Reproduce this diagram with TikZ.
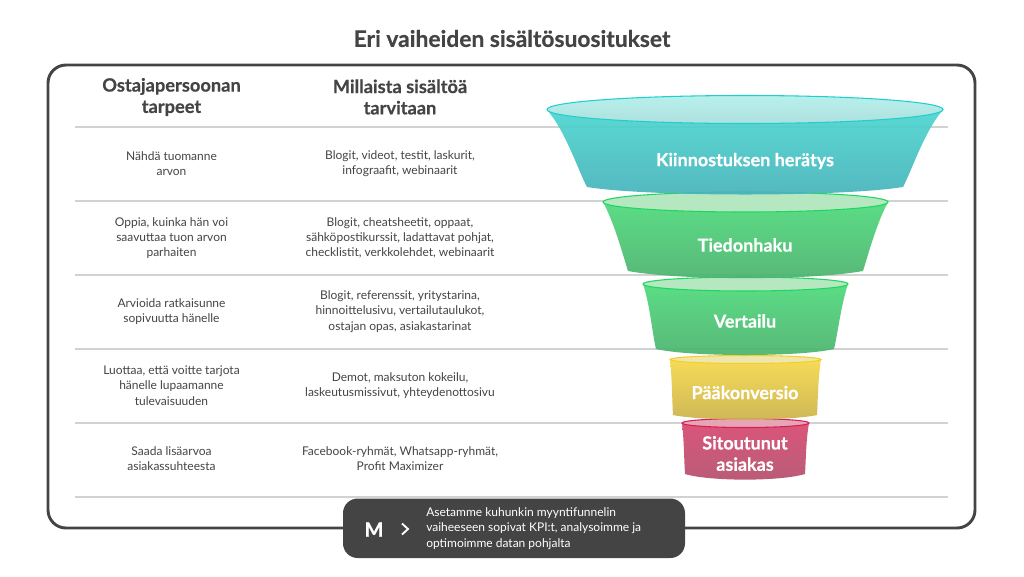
\documentclass[tikz,border=0pt]{standalone}
\usepackage{fontspec}
\setmainfont{Lato}[BoldFeatures={FakeBold=0.5}]
\definecolor{darkgrey}{HTML}{444444}
\definecolor{rulegrey}{HTML}{D2D2D2}
\tikzset{
  rulerow/.style={draw=rulegrey,line width=0.8pt},
  bodytext/.style={anchor=center,inner sep=0pt,align=center,text=darkgrey,font=\fontsize{9}{11.4}\selectfont},
  headtext/.style={anchor=center,inner sep=0pt,align=center,text=darkgrey,font=\fontsize{13.7}{16}\selectfont\bfseries},
  stagetext/.style={anchor=center,inner sep=0pt,align=center,text=white,font=\fontsize{13.5}{16}\selectfont\bfseries},
  tealbody/.style={draw=none,top color={rgb,255:red,77;green,214;blue,208},bottom color={rgb,255:red,71;green,178;blue,186},opacity=0.93},
  tealtop/.style={draw={rgb,255:red,31;green,207;blue,207},line width=0.8pt,top color={rgb,255:red,184;green,240;blue,236},bottom color={rgb,255:red,174;green,224;blue,222}},
  greenbody/.style={draw=none,top color={rgb,255:red,79;green,218;blue,124},bottom color={rgb,255:red,75;green,178;blue,110},opacity=0.93},
  greentop/.style={draw={rgb,255:red,30;green,215;blue,96},line width=0.8pt,fill={rgb,255:red,181;green,231;blue,193}},
  yellowbody/.style={draw=none,top color={rgb,255:red,245;green,216;blue,74},bottom color={rgb,255:red,203;green,178;blue,74},opacity=0.93},
  yellowtop/.style={draw={rgb,255:red,245;green,208;blue,32},line width=0.8pt,fill={rgb,255:red,239;green,229;blue,174}},
  redbody/.style={draw=none,top color={rgb,255:red,216;green,72;blue,112},bottom color={rgb,255:red,179;green,80;blue,110},opacity=0.93},
  redtop/.style={draw={rgb,255:red,216;green,30;blue,85},line width=0.8pt,fill={rgb,255:red,229;green,165;blue,181}},
}
\begin{document}
\begin{tikzpicture}[x=0.75pt,y=0.75pt,yscale=-1,xscale=1]
\useasboundingbox (0,0) rectangle (1024,576);

%Title
\node (title) [anchor=center,inner sep=0pt,text=darkgrey,font=\fontsize{17.1}{20}\selectfont\bfseries] at (512,38.5) {Eri vaiheiden sisältösuositukset};

%Frame
\draw [draw=darkgrey,line width=2.2pt,rounded corners=13.5pt] (48,65) rectangle (975,528);

%Rows
\draw [rulerow] (75,127) -- (948,127);
\draw [rulerow] (75,201) -- (948,201);
\draw [rulerow] (75,275) -- (948,275);
\draw [rulerow] (75,349) -- (948,349);
\draw [rulerow] (75,423) -- (948,423);
\draw [rulerow] (75,497) -- (948,497);

%Funnel bottom to top, each body then its rim
\draw [redbody] (682,423) .. controls (684,440) and (684,458) .. (685,474) .. controls (710,481.5) and (780,481.5) .. (805,474) .. controls (806,458) and (806,440) .. (809,423) -- cycle;
\draw [redtop] (745.5,423) ellipse [x radius=63.5,y radius=4.5];
\draw [yellowbody] (670,359) .. controls (672,378) and (672,398) .. (673,415) .. controls (700,421) and (790,421) .. (817,415) .. controls (818,398) and (818,378) .. (821,359) -- cycle;
\draw [yellowtop] (745.5,359.5) ellipse [x radius=75.5,y radius=4];
\draw [greenbody] (643,284) .. controls (650,305) and (652,332) .. (656,349) .. controls (690,357) and (800,357) .. (834,349) .. controls (838,332) and (841,305) .. (848,284) -- cycle;
\draw [greentop] (745.5,284) ellipse [x radius=102.5,y radius=7];
\draw [greenbody] (603,202) .. controls (615,225) and (622,252) .. (628,271) .. controls (680,280.5) and (811,280.5) .. (863,271) .. controls (869,252) and (876,225) .. (888,202) -- cycle;
\draw [greentop] (745.5,202) ellipse [x radius=142.5,y radius=10];
\draw [tealbody] (547,110) .. controls (565,130) and (578,170) .. (587,187) .. controls (650,197) and (840,197) .. (903,187) .. controls (912,170) and (925,130) .. (943,110) -- cycle;
\draw [tealtop] (745,109.5) ellipse [x radius=198,y radius=14];

%Stage labels
\node (interest) [stagetext] at (745,161) {Kiinnostuksen herätys};
\node (search) [stagetext] at (745,245) {Tiedonhaku};
\node (compare) [stagetext] at (745,321) {Vertailu};
\node (conversion) [stagetext] at (745,392.5) {Pääkonversio};
\node (customer) [stagetext] at (745,453.5) {Sitoutunut\\asiakas};

%Column headings
\node (needshead) [headtext] at (171.5,97) {Ostajapersoonan\\tarpeet};
\node (contenthead) [headtext] at (400,97) {Millaista sisältöä\\tarvitaan};

%Needs column
\node (needone) [bodytext] at (171.5,163.5) {Nähdä tuomanne\\arvon};
\node (needtwo) [bodytext] at (171.5,238) {Oppia, kuinka hän voi\\saavuttaa tuon arvon\\parhaiten};
\node (needthree) [bodytext] at (171.5,311.5) {Arvioida ratkaisunne\\sopivuutta hänelle};
\node (needfour) [bodytext] at (171.5,385.5) {Luottaa, että voitte tarjota\\hänelle lupaamanne\\tulevaisuuden};
\node (needfive) [bodytext] at (171.5,459) {Saada lisäarvoa\\asiakassuhteesta};

%Content column
\node (contentone) [bodytext] at (400,163.5) {Blogit, videot, testit, laskurit,\\infograafit, webinaarit};
\node (contenttwo) [bodytext] at (400,238) {Blogit, cheatsheetit, oppaat,\\sähköpostikurssit, ladattavat pohjat,\\checklistit, verkkolehdet, webinaarit};
\node (contentthree) [bodytext] at (400,311.5) {Blogit, referenssit, yritystarina,\\hinnoittelusivu, vertailutaulukot,\\ostajan opas, asiakastarinat};
\node (contentfour) [bodytext] at (400,385.5) {Demot, maksuton kokeilu,\\laskeutusmissivut, yhteydenottosivu};
\node (contentfive) [bodytext] at (400,459) {Facebook-ryhmät, Whatsapp-ryhmät,\\Profit Maximizer};

%Badge
\draw [draw=none,fill=darkgrey,rounded corners=11pt] (343,498.5) rectangle (685,558);
\node (badgeletter) [anchor=center,inner sep=0pt,text=white,font=\fontsize{15}{18}\selectfont\bfseries] at (374,529.5) {M};
\draw [draw=white,line width=1.4pt] (402,523.5) -- (408,529) -- (402,534.5);
\node (badgetext) [anchor=west,inner sep=0pt,align=left,text=white,font=\fontsize{9}{11.4}\selectfont] at (426,528.5) {Asetamme kuhunkin myyntifunnelin\\vaiheeseen sopivat KPI:t, analysoimme ja\\optimoimme datan pohjalta};

\end{tikzpicture}
\end{document}
